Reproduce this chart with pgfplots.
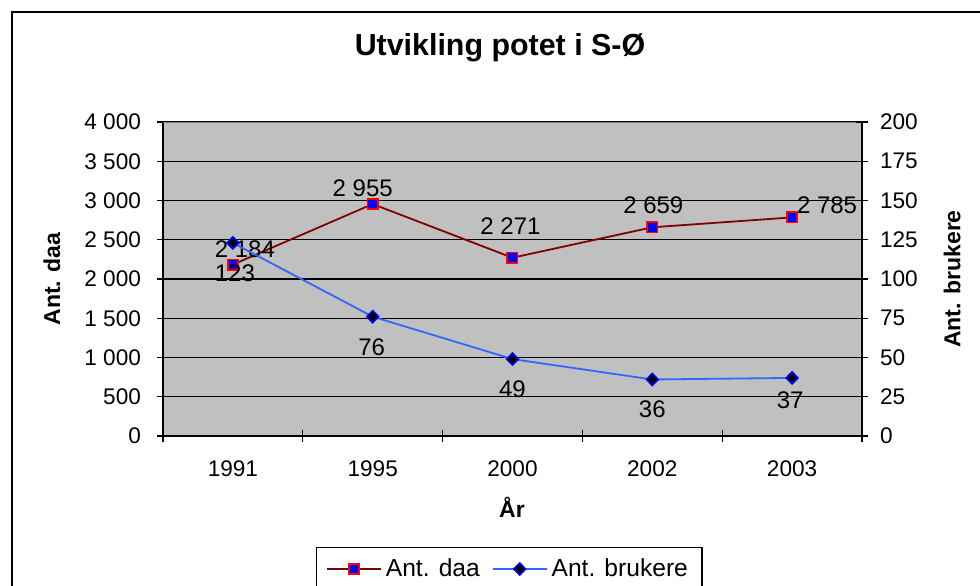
\documentclass[border=0pt]{standalone}
\usepackage{fontspec}
\setmainfont{Liberation Sans}
\usepackage{pgfplots}
\usepackage{pgfplotstable}
\pgfplotsset{compat=1.18}
\definecolor{plotgray}{HTML}{C0C0C0}
\definecolor{topgray}{HTML}{808080}
\definecolor{daaline}{HTML}{800000}
\definecolor{brline}{HTML}{3366FF}

\pgfplotstableread{
x y dx dy
0 2184 6 7.5
1 2955 -5 8
2 2271 -1 16
3 2659 0.5 11
4 2785 17.5 6
}\daa
\pgfplotstableread{
x y dx dy
0 123 1 -15
1 76 -0.5 -15.5
2 49 0 -15
3 36 0 -15
4 37 -1 -11
}\brukere

\pgfplotsset{
  common/.style={
    at={(81.5pt,74.5pt)}, anchor=south west,
    scale only axis, width=349.5pt, height=157pt,
    xmin=-0.5, xmax=4.5,
    /pgf/number format/assume math mode=true,
    /pgf/number format/1000 sep={\ },
    tick label style={font=\fontsize{11.3}{13}\selectfont},
    tick align=center,
    major tick length=6pt,
    every tick/.style={black, line width=0.6pt},
    axis line style={black, line width=0.8pt},
  },
  daastyle/.style={daaline, line width=0.9pt, mark=square*, mark size=2.6pt,
    mark options={fill=blue, draw=red, line width=0.8pt, solid}},
  brstyle/.style={brline, line width=0.9pt, mark=diamond*, mark size=3pt,
    mark options={xscale=1.3, fill=black, draw=blue, line width=0.8pt, solid}},
  labelnodes/.style={
    nodes near coords={\pgfmathprintnumber{\pgfplotspointmeta}},
    point meta=\thisrow{y},
    visualization depends on={\thisrow{dx}\as\dx},
    visualization depends on={\thisrow{dy}\as\dy},
    every node near coord/.append style={anchor=center, black,
      font=\fontsize{12}{14}\selectfont, xshift=\dx pt, yshift=\dy pt},
  },
}

\begin{document}
\begin{tikzpicture}
\useasboundingbox (0,0) rectangle (490pt,292.5pt);
\draw[line width=1.2pt, black] (6pt,-20pt) rectangle (520pt,286.5pt);
\node[font=\fontsize{15.2}{18}\selectfont\bfseries] at (250pt,268.5pt) {Utvikling potet i S-Ø};

\begin{axis}[common,
  axis background/.style={fill=plotgray},
  ymin=0, ymax=4000, ytick={0,500,...,4000},
  ymajorgrids, grid style={black, line width=0.6pt},
  xtick={0,1,2,3,4}, xticklabels={1991,1995,2000,2002,2003},
  major x tick style={draw=none},
  minor xtick={-0.5,0.5,1.5,2.5,3.5,4.5},
  minor tick length=6pt,
  minor x tick style={black, line width=0.6pt},
  xtick pos=bottom, ytick pos=left,
  xticklabel style={yshift=-6pt},
  yticklabel style={xshift=-4.5pt},
  xlabel={År},
  every axis x label/.style={at={(rel axis cs:0.4993,-0.226)}, anchor=center,
    font=\fontsize{11.5}{13}\selectfont\bfseries},
  ylabel={Ant. daa},
  every axis y label/.style={at={(rel axis cs:-0.1588,0.5)}, anchor=center, rotate=90,
    font=\fontsize{11.5}{13}\selectfont\bfseries},
]
\addplot[daastyle, labelnodes] table[x=x, y=y] {\daa};
\draw[topgray, line width=1.2pt] (rel axis cs:0,1) -- (rel axis cs:1,1);
\end{axis}

\begin{axis}[common,
  axis x line=none, axis y line*=right,
  ymin=0, ymax=200, ytick={0,25,...,200},
  yticklabel style={xshift=2.5pt},
  ylabel={Ant. brukere},
  every axis y label/.style={at={(rel axis cs:1.1288,0.5)}, anchor=center, rotate=90,
    font=\fontsize{11.5}{13}\selectfont\bfseries},
  legend style={at={(rel axis cs:0.495,-0.3535)}, anchor=north,
    legend columns=2, draw=black, line width=0.6pt, fill=white,
    font=\fontsize{12.3}{14}\selectfont, inner ysep=3.5pt, inner xsep=5pt,
    /tikz/every even column/.append style={column sep=4pt}},
  legend image code/.code={\draw[mark repeat=2, mark phase=2] plot coordinates {(0pt,0pt) (13.5pt,0pt) (27pt,0pt)};},
]
\addlegendimage{daastyle}
\addlegendentry{Ant. daa}
\addplot[brstyle, labelnodes] table[x=x, y=y] {\brukere};
\addlegendentry{Ant. brukere}
\end{axis}
\end{tikzpicture}
\end{document}
